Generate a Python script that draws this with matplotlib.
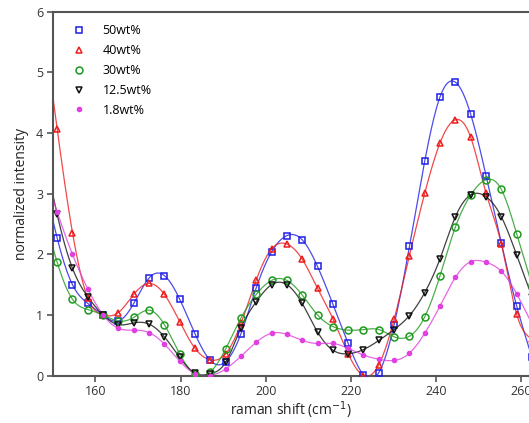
import matplotlib
matplotlib.use("Agg")
import matplotlib.pyplot as plt
import numpy as np

plt.rcParams["font.family"] = ["Open Sans", "DejaVu Sans"]

# raman shift sample positions (first and last lie just outside the visible window)
shift = [147.4, 151.0, 154.6, 158.2, 161.8, 165.4, 169.0, 172.6, 176.2, 179.8, 183.4,
         187.0, 190.6, 194.2, 197.8, 201.4, 205.0, 208.6, 212.2, 215.8, 219.4, 223.0,
         226.6, 230.2, 233.8, 237.4, 241.0, 244.6, 248.2, 251.8, 255.4, 259.0, 262.6]

wt50 = [3.40, 2.27, 1.50, 1.19, 1.00, 0.90, 1.19, 1.61, 1.65, 1.26, 0.69,
        0.25, 0.23, 0.69, 1.45, 2.04, 2.31, 2.24, 1.80, 1.18, 0.53, 0.01,
        0.05, 0.84, 2.13, 3.54, 4.60, 4.84, 4.31, 3.30, 2.18, 1.15, 0.30]
wt40 = [6.00, 4.07, 2.36, 1.28, 1.00, 1.04, 1.34, 1.52, 1.34, 0.89, 0.45,
        0.26, 0.36, 0.86, 1.58, 2.09, 2.17, 1.92, 1.44, 0.94, 0.36, 0.00,
        0.18, 0.93, 1.98, 3.01, 3.84, 4.22, 3.93, 3.01, 2.17, 1.01, 0.60]
wt30 = [2.80, 1.87, 1.26, 1.09, 1.00, 0.90, 0.96, 1.08, 0.84, 0.36, 0.02,
        0.06, 0.44, 0.95, 1.34, 1.57, 1.57, 1.33, 1.00, 0.81, 0.75, 0.76,
        0.76, 0.64, 0.65, 0.97, 1.65, 2.45, 2.98, 3.23, 3.07, 2.34, 1.50]
wt12 = [3.90, 2.66, 1.77, 1.30, 1.00, 0.84, 0.87, 0.85, 0.64, 0.30, 0.04,
        0.03, 0.22, 0.79, 1.22, 1.50, 1.50, 1.19, 0.72, 0.42, 0.36, 0.43,
        0.58, 0.76, 0.99, 1.37, 1.93, 2.62, 2.98, 2.95, 2.62, 1.99, 1.30]
wt1 = [3.50, 2.70, 2.00, 1.43, 1.00, 0.78, 0.75, 0.71, 0.52, 0.24, 0.03,
       0.00, 0.11, 0.32, 0.55, 0.70, 0.68, 0.58, 0.53, 0.53, 0.45, 0.34,
       0.27, 0.25, 0.37, 0.70, 1.15, 1.62, 1.88, 1.87, 1.72, 1.35, 0.85]

series = [
    ("50wt%", wt50, "#1f1fe6", "s", "none"),
    ("40wt%", wt40, "#ee1c1c", "^", "none"),
    ("30wt%", wt30, "#1e9a1e", "o", "none"),
    ("12.5wt%", wt12, "#111111", "v", "none"),
    ("1.8wt%", wt1, "#e040e0", "o", "fill"),
]


def natural_spline(x, y, xs):
    x = np.asarray(x, float)
    y = np.asarray(y, float)
    n = len(x)
    h = np.diff(x)
    A = np.zeros((n, n))
    b = np.zeros(n)
    A[0, 0] = A[-1, -1] = 1
    for i in range(1, n - 1):
        A[i, i - 1] = h[i - 1]
        A[i, i] = 2 * (h[i - 1] + h[i])
        A[i, i + 1] = h[i]
        b[i] = 3 * ((y[i + 1] - y[i]) / h[i] - (y[i] - y[i - 1]) / h[i - 1])
    c = np.linalg.solve(A, b)
    idx = np.clip(np.searchsorted(x, xs) - 1, 0, n - 2)
    dx = xs - x[idx]
    bb = (y[1:] - y[:-1]) / h - h * (2 * c[:-1] + c[1:]) / 3
    d = (c[1:] - c[:-1]) / (3 * h)
    return y[idx] + bb[idx] * dx + c[idx] * dx ** 2 + d[idx] * dx ** 3


fig = plt.figure(figsize=(5.29, 4.23), dpi=100)
ax = fig.add_axes([0.100, 0.112, 0.900, 0.860])

xs = np.linspace(shift[0], shift[-1], 800)
for label, vals, color, marker, fill in series:
    ax.plot(xs, natural_spline(shift, vals, xs), color=color, lw=0.9, alpha=0.8, zorder=2)
    if fill == "fill":
        ax.plot(shift, vals, ls="none", marker=marker, ms=3.0, color=color,
                label=label, zorder=3)
    else:
        ax.plot(shift, vals, ls="none", marker=marker, ms=5, mfc="none", mew=1.1,
                color=color, label=label, zorder=3)

ax.set_xlim(150, 261.9)
ax.set_ylim(0, 6)
ax.set_xticks([160, 180, 200, 220, 240, 260])
ax.set_yticks([0, 1, 2, 3, 4, 5, 6])
ax.tick_params(labelsize=9, length=4, width=1.2, color="#555555", labelcolor="#333333",
               pad=3)
for side in ["left", "top", "bottom"]:
    ax.spines[side].set_color("#555555")
    ax.spines[side].set_linewidth(1.5)
ax.spines["right"].set_visible(False)

ax.set_xlabel("raman shift (cm$^{-1}$)", fontsize=10, color="#222222", labelpad=1)
ax.set_ylabel("normalized intensity", fontsize=10, color="#222222", labelpad=5)

ax.legend(loc="upper left", frameon=False, fontsize=9, handlelength=1.0,
          handletextpad=1.4, labelspacing=0.55, borderaxespad=0.6,
          bbox_to_anchor=(0.015, 1.0))

fig.savefig("out.png", dpi=100)
